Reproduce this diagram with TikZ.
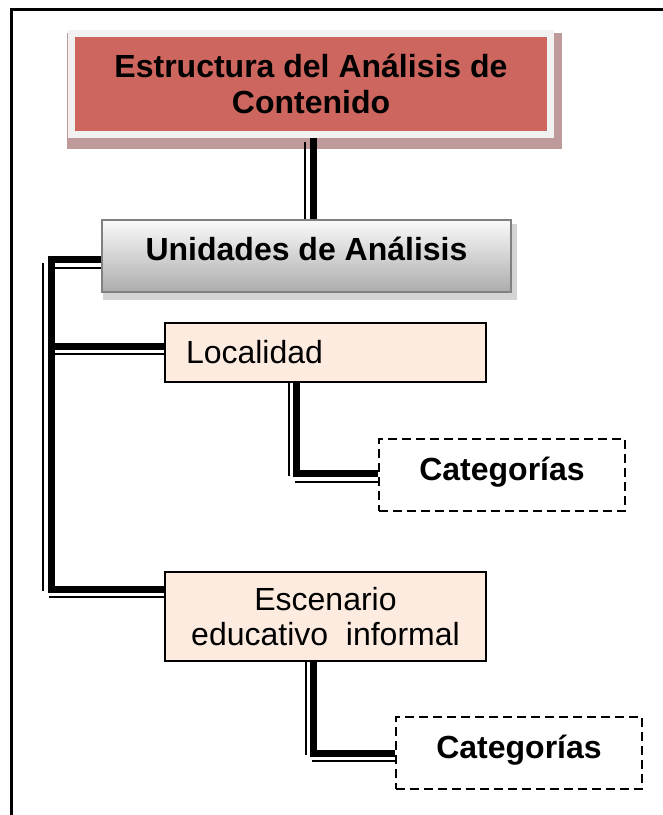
\documentclass[tikz,border=0pt]{standalone}
\usepackage{fontspec}
\setmainfont{Liberation Sans}
\usetikzlibrary{calc,backgrounds}
\definecolor{redfill}{RGB}{205,102,94}
\definecolor{glowcol}{RGB}{241,241,241}
\definecolor{redshadow}{RGB}{190,154,154}
\definecolor{greytop}{RGB}{250,250,250}
\definecolor{greybot}{RGB}{172,172,172}
\definecolor{greyborder}{RGB}{128,128,128}
\definecolor{greyshadow}{RGB}{212,212,212}
\definecolor{peach}{RGB}{253,235,224}
\tikzset{
  every node/.style={font=\fontsize{32}{35.5}\selectfont},
  titlebox/.style={rectangle, fill=redfill, draw=glowcol, line width=7,
    minimum width=479, minimum height=101, inner sep=0, align=center, font=\fontsize{32}{35.5}\selectfont\bfseries},
  unitbox/.style={rectangle, top color=greytop, bottom color=greybot, draw=greyborder, line width=2,
    minimum width=409, inner xsep=0, inner ysep=0, text height=40, text depth=32, font=\fontsize{32}{35.5}\selectfont\bfseries},
  itembox/.style={rectangle, fill=peach, draw=black, line width=2, inner sep=0},
  catbox/.style={rectangle, draw=black, line width=2, dash pattern=on 9pt off 5pt, fill=white,
    minimum width=246, inner xsep=0, inner ysep=0, text height=41, text depth=31, font=\fontsize{32}{35.5}\selectfont\bfseries},
  thk/.style={draw=black, line width=7, line cap=butt, line join=miter},
  thn/.style={draw=black, line width=2, line cap=butt},
  frameline/.style={draw=black, line width=2.5}
}
\begin{document}
\begin{tikzpicture}[x=1pt, y=-1pt]
\useasboundingbox (0,0) rectangle (663,815);
\draw[frameline] (11.3,815) -- (11.3,9.5) -- (663,9.5);

\node[titlebox] (title) at (311,84) {Estructura del Análisis de\\Contenido};
\node[unitbox] (unid) at (306.5,256) {Unidades de Análisis};
\node[itembox, text width=279, inner xsep=21, align=left, text height=40, text depth=19] (loc) at (325.5,352.5) {Localidad};
\node[catbox] (cat1) at (502,475) {Categorías};
\node[itembox, minimum width=321, minimum height=89, align=center] (esc) at (325.5,616.5) {Escenario\\educativo~ informal};
\node[catbox] (cat2) at (519,753) {Categorías};

\coordinate (tx) at (313,0);
\coordinate (bx) at (51,0);
\coordinate (lx) at (296.5,0);
\coordinate (ex) at (313.5,0);

\begin{scope}[on background layer]
  % shadows
  \fill[redshadow] ($(title.south west)+(-1.5,10.5)$) rectangle ($(title.north east)+(7.5,2.5)$);
  \fill[greyshadow] ($(unid.south west)+(2,7)$) rectangle ($(unid.north east)+(5,5)$);
  % helper coordinates
  \coordinate (u1) at ($(unid.west)+(0,3.5)$);
  \coordinate (l1) at ($(loc.north west)+(0,24.5)$);
  \coordinate (e1) at ($(esc.north west)+(0,18)$);
  \coordinate (c1) at ($(cat1.west)+(0,-1.5)$);
  \coordinate (c2) at ($(cat2.west)+(0,0)$);
  % thick connectors
  \draw[thk] (title.south -| tx) -- (unid.north -| tx);
  \draw[thk] (u1) -| (bx |- e1) -- (e1);
  \draw[thk] (bx |- l1) -- (l1);
  \draw[thk] (loc.south -| lx) |- (c1);
  \draw[thk] (esc.south -| ex) |- (c2);
  % thin companion lines
  \draw[thn] ($(title.south -| tx)+(-8,3.5)$) -- ($(unid.north -| tx)+(-8,0)$);
  \draw[thn] ($(u1 -| bx)+(-8,3)$) -- ($(e1 -| bx)+(-8,2)$);
  \draw[thn] ($(u1 -| bx)+(4,8)$) -- ($(u1)+(0,8)$);
  \draw[thn] ($(l1 -| bx)+(4,7)$) -- ($(l1)+(0,7)$);
  \draw[thn] ($(e1 -| bx)+(-2,8)$) -- ($(e1)+(0,8)$);
  \draw[thn] ($(loc.south -| lx)+(-7.5,0)$) -- ($(c1 -| lx)+(-7.5,2)$);
  \draw[thn] ($(c1 -| lx)+(-2,8)$) -- ($(c1)+(0,8)$);
  \draw[thn] ($(esc.south -| ex)+(-8,0)$) -- ($(c2 -| ex)+(-8,2)$);
  \draw[thn] ($(c2 -| ex)+(-2,8)$) -- ($(c2)+(0,8)$);
\end{scope}
\end{tikzpicture}
\end{document}
